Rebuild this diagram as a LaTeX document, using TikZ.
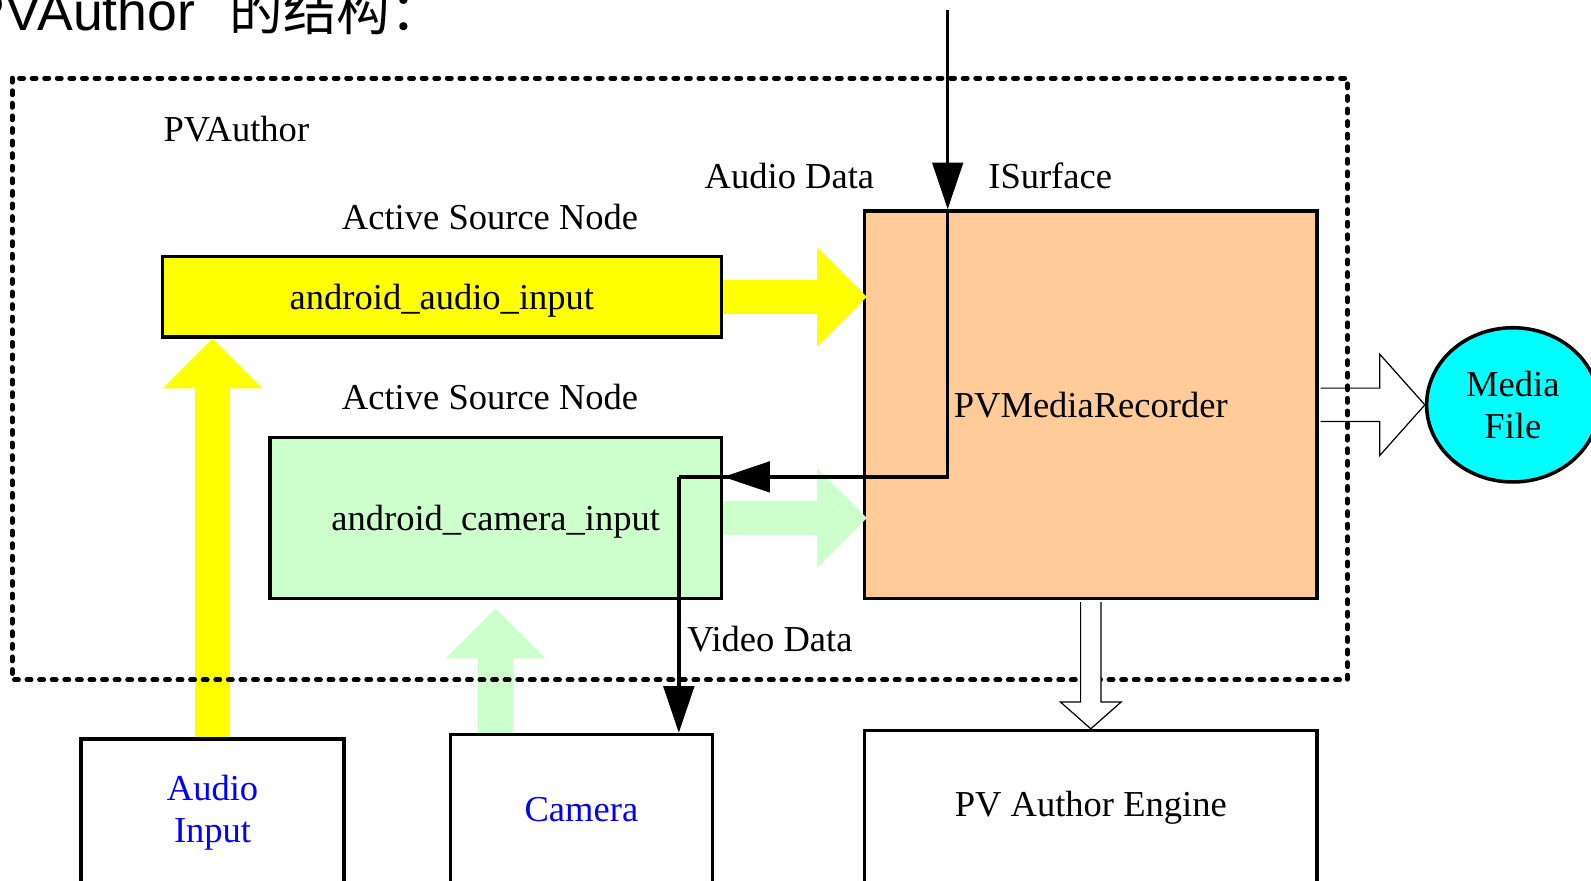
\documentclass[tikz,border=0pt]{standalone}
\usepackage{fontspec}
\setmainfont{Liberation Serif}
\newfontfamily\headsans{Liberation Sans}
\newfontfamily\cjk{Noto Sans CJK SC}
\usetikzlibrary{arrows.meta,calc,shapes.geometric}
\definecolor{srcyellow}{RGB}{255,255,0}
\definecolor{srcgreen}{RGB}{204,255,204}
\definecolor{recorange}{RGB}{255,204,153}
\definecolor{filecyan}{RGB}{0,255,255}
\definecolor{devblue}{RGB}{0,0,255}
\tikzset{
  box/.style={draw, line width=1.75pt, inner sep=0pt},
  lbl/.style={anchor=base, inner sep=0pt},
  fat/.style={line width=17pt, -{Triangle[length=24.5pt,width=49pt,line width=0pt]}},
  hollow/.style={draw, fill=white, line width=0.6pt, line join=miter},
  wire/.style={line width=1.75pt, -{Triangle[length=23pt,width=15pt]}}
}
\begin{document}
\begin{tikzpicture}[x=0.5pt,y=-0.5pt,font=\fontsize{18}{21}\selectfont]
\useasboundingbox (0,0) rectangle (1568,868);
\node[anchor=base west, inner sep=0pt, font=\headsans\fontsize{26.4}{30}\selectfont] (title) at (-30,30) {PVAuthor\hspace{17pt}{\cjk 的结构：}};
% sources and recorder
\node[box, fill=srcyellow, minimum width=275.5pt, minimum height=39.5pt, text depth=0pt] (audionode) at (435.5,292.5) {android\_audio\_input};
\node[box, fill=srcgreen, minimum width=222.5pt, minimum height=79.5pt, text depth=0pt] (cameranode) at (488.5,510.5) {android\_camera\_input};
\node[box, fill=recorange, minimum width=223pt, minimum height=191pt] (rec) at (1075,399) {PVMediaRecorder};
\node[ellipse, draw, line width=1.75pt, fill=filecyan, minimum width=85pt, minimum height=76pt, inner sep=0pt, align=center] (mfile) at (1491,399) {Media\\File};
\node[box, minimum width=129.5pt, minimum height=72.5pt, text=devblue, align=center] (audioin) at (209.5,801) {Audio\\Input};
\node[box, minimum width=129pt, minimum height=74pt, text=devblue] (camera) at (573,798) {Camera};
\node[box, minimum width=223pt, minimum height=76pt] (engine) at (1075,796) {PV Author Engine};
% data flow
\draw[fat, srcyellow] (audionode.east) -- ($(rec.west |- audionode.east)+(4,0)$);
\draw[fat, srcgreen] (cameranode.east) -- ($(rec.west |- cameranode.east)+(4,0)$);
\draw[fat, srcyellow] (audioin.north) -- (audioin.north |- audionode.south);
\draw[fat, srcgreen] (camera.north -| cameranode.south) -- ($(cameranode.south)+(0,8)$);
\draw[hollow] ($(rec.east)+(1.75,-16.5)$) -- ++(58.25,0) -- ++(0,-33.5) -- (mfile.west) -- ($(rec.east)+(60,50)$) -- ++(0,-33.5) -- ($(rec.east)+(1.75,16.5)$);
\draw[line width=2.4pt, dash pattern=on 2pt off 4.2pt, line cap=round] (12,77) rectangle (1328,670);
\draw[hollow] ($(rec.south)+(-10,1.75)$) -- ++(0,98.25) -- ++(-20,0) -- (engine.north) -- ($(rec.south)+(30,100)$) -- ++(-20,0) -- ($(rec.south)+(10,1.75)$);
% surface line
\coordinate (feed) at (934,10);
\coordinate (turn) at (934,470);
\coordinate (drop) at (669,470);
\draw[wire] (feed) -- (feed |- rec.north);
\draw[line width=1.75pt] (feed |- rec.north) -- (turn) -- (drop);
\draw[wire] (turn) -- (turn -| cameranode.east);
\draw[wire] (drop) -- (drop |- camera.north);
% labels
\node[lbl] (pvauthor) at (233,139) {PVAuthor};
\node[lbl] (audiodata) at (778,186) {Audio Data};
\node[lbl] (isurface) at (1035,186) {ISurface};
\node[lbl] (srcaudio) at (483,226) {Active Source Node};
\node[lbl] (srccamera) at (483,404) {Active Source Node};
\node[lbl, anchor=base west] (videodata) at (677,642) {Video Data};
\end{tikzpicture}
\end{document}
